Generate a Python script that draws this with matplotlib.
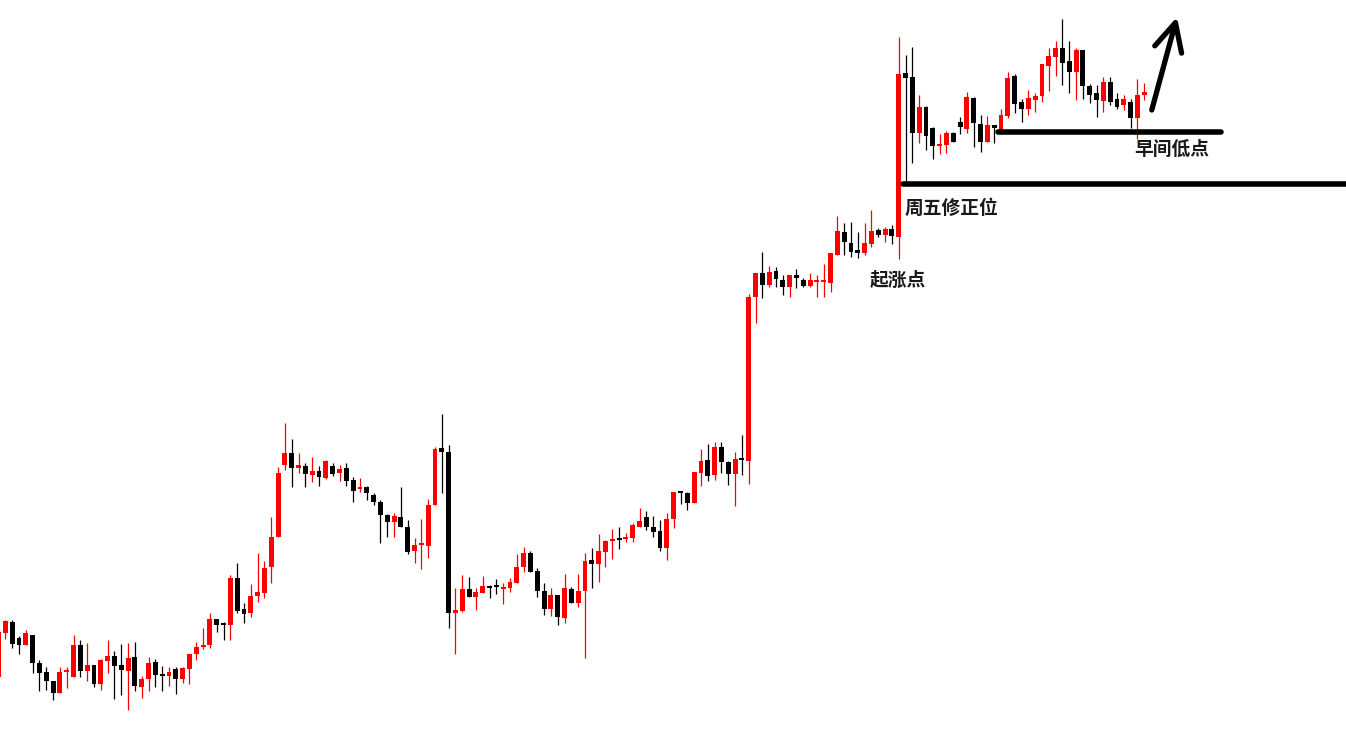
import matplotlib
matplotlib.use("Agg")
import matplotlib.pyplot as plt
import numpy as np

plt.rcParams['font.family'] = ['Noto Sans CJK SC', 'DejaVu Sans']

# OHLC (price units are arbitrary, bottom of chart = 0)
opens = [73, 117, 128, 112, 105, 115, 87, 78, 69, 57, 78, 73, 105, 79, 85, 66, 89, 94, 85, 79,
         93, 63, 71, 88, 76, 74, 81, 71, 81, 96, 103, 105, 131, 126, 125, 172, 141, 137, 154, 157,
         183, 213, 285, 297, 282, 284, 275, 279, 272, 284, 277, 282, 270, 261, 263, 255, 248, 235, 228, 233,
         223, 199, 205, 204, 245, 302, 298, 137, 139, 161, 153, 157, 163, 164, 161, 162, 167, 183, 197, 179,
         159, 141, 155, 132, 161, 147, 159, 190, 186, 198, 209, 211, 211, 212, 223, 233, 223, 219, 202, 231,
         258, 257, 247, 277, 290, 275, 303, 288, 276, 292, 289, 453, 477, 465, 479, 470, 463, 475, 470, 464,
         468, 468, 467, 495, 518, 507, 500, 497, 506, 520, 515, 521, 513, 677, 673, 617, 643, 622, 604, 605,
         617, 628, 621, 652, 626, 608, 625, 620, 634, 674, 648, 641, 650, 654, 684, 693, 702, 689, 678, 700,
         664, 657, 649, 668, 651, 645, 648, 632, 655]
highs = [120, 130, 130, 114, 120, 115, 90, 83, 69, 83, 83, 115, 110, 107, 85, 91, 110, 99, 106, 107,
         108, 74, 93, 91, 84, 83, 83, 83, 96, 108, 122, 137, 131, 128, 175, 187, 147, 166, 197, 189,
         233, 283, 327, 311, 297, 287, 293, 284, 290, 287, 285, 287, 273, 272, 264, 257, 250, 236, 237, 263,
         230, 212, 231, 251, 303, 336, 305, 162, 175, 173, 162, 174, 165, 171, 167, 172, 196, 203, 199, 182,
         167, 162, 155, 176, 163, 176, 197, 202, 216, 210, 221, 223, 217, 227, 242, 239, 234, 230, 237, 258,
         259, 258, 278, 301, 306, 308, 308, 289, 298, 315, 456, 477, 498, 484, 483, 475, 475, 481, 472, 477,
         475, 486, 497, 534, 527, 528, 518, 527, 540, 522, 523, 525, 713, 695, 703, 655, 644, 623, 616, 619,
         618, 633, 658, 653, 635, 634, 625, 641, 678, 676, 651, 660, 657, 686, 702, 709, 731, 709, 702, 700,
         666, 665, 673, 673, 657, 655, 651, 671, 667]
lows = [70, 111, 102, 96, 105, 77, 59, 60, 50, 57, 62, 73, 73, 69, 63, 60, 77, 51, 55, 40,
        59, 52, 59, 63, 59, 64, 56, 67, 66, 90, 101, 102, 118, 110, 110, 137, 127, 133, 148, 152,
        167, 213, 280, 263, 277, 263, 268, 264, 271, 274, 269, 264, 248, 258, 250, 245, 207, 213, 213, 223,
        196, 187, 181, 192, 245, 257, 122, 96, 138, 153, 140, 157, 152, 156, 146, 158, 167, 178, 178, 153,
        135, 134, 125, 127, 147, 143, 92, 162, 168, 183, 191, 201, 208, 208, 223, 220, 213, 199, 190, 222,
        246, 240, 247, 264, 269, 270, 277, 265, 244, 275, 266, 427, 452, 463, 463, 455, 453, 462, 463, 463,
        453, 453, 458, 495, 495, 493, 492, 495, 503, 513, 508, 506, 491, 565, 587, 607, 600, 591, 596, 597,
        608, 616, 617, 603, 598, 608, 607, 620, 632, 637, 628, 635, 638, 648, 659, 674, 665, 657, 650, 651,
        647, 633, 638, 645, 641, 640, 622, 611, 650]
closes = [118, 129, 106, 105, 117, 87, 77, 69, 57, 78, 79, 105, 79, 85, 66, 90, 94, 84, 80, 92,
          64, 71, 87, 75, 74, 78, 71, 82, 96, 103, 105, 131, 125, 125, 172, 139, 136, 154, 158, 182,
          213, 277, 297, 282, 285, 276, 279, 273, 289, 276, 281, 269, 259, 263, 257, 248, 235, 228, 234, 223,
          198, 205, 206, 245, 301, 298, 137, 140, 161, 153, 158, 164, 162, 163, 162, 168, 183, 197, 178, 159,
          141, 155, 133, 162, 147, 159, 189, 186, 199, 209, 211, 210, 213, 225, 229, 223, 218, 202, 231, 258,
          257, 247, 278, 289, 274, 303, 288, 276, 291, 290, 453, 477, 465, 478, 471, 463, 475, 472, 464, 470,
          469, 469, 497, 519, 508, 498, 497, 507, 519, 515, 521, 514, 676, 672, 617, 643, 614, 604, 606, 617,
          608, 623, 653, 627, 608, 625, 622, 635, 672, 646, 641, 652, 654, 686, 694, 702, 687, 678, 700, 664,
          655, 650, 668, 648, 643, 651, 632, 655, 658]

# annotation levels
friday_level = 566.5
morning_low = 618
labels = ["起涨点", "周五修正位", "早间低点"]

fig = plt.figure(figsize=(13.46, 7.5), dpi=100)
ax = fig.add_axes([0, 0, 1, 1])

o = np.array(opens, dtype=float)
h = np.array(highs, dtype=float)
l = np.array(lows, dtype=float)
c = np.array(closes, dtype=float)
x = np.arange(len(o))
up = c >= o
colors = np.where(up, '#ff0000', '#000000')

# wicks
ax.vlines(x, l, h, colors=colors, linewidth=0.9, zorder=1)
# bodies (keep dojis visible)
body_bottom = np.minimum(o, c)
body_h = np.maximum(np.abs(c - o), 1.6)
ax.bar(x, body_h, bottom=body_bottom, width=0.72, color=colors, linewidth=0, zorder=2)

# horizontal support lines
ax.plot([132.6, 200], [friday_level, friday_level], color='black', lw=4,
        solid_capstyle='round', zorder=3)
ax.plot([146.5, 179.2], [morning_low, morning_low], color='black', lw=4,
        solid_capstyle='round', zorder=3)

# up arrow
ax.annotate('', xy=(172.8, 733), xytext=(169.1, 640),
            arrowprops=dict(arrowstyle='->,head_length=1.0,head_width=0.5',
                            color='black', lw=3.8, mutation_scale=20,
                            shrinkA=0, shrinkB=0))

txt = dict(fontsize=13.5, color='#1a1a1a', va='center', ha='left', fontweight='bold')
ax.text(127.7, 470, labels[0], **txt)
ax.text(132.9, 542, labels[1], **txt)
ax.text(166.6, 601, labels[2], **txt)

ax.set_xlim(0.22, 197.58)
ax.set_ylim(0, 750)
ax.axis('off')

fig.savefig('out.png', dpi=100, facecolor='white')
plt.close(fig)
